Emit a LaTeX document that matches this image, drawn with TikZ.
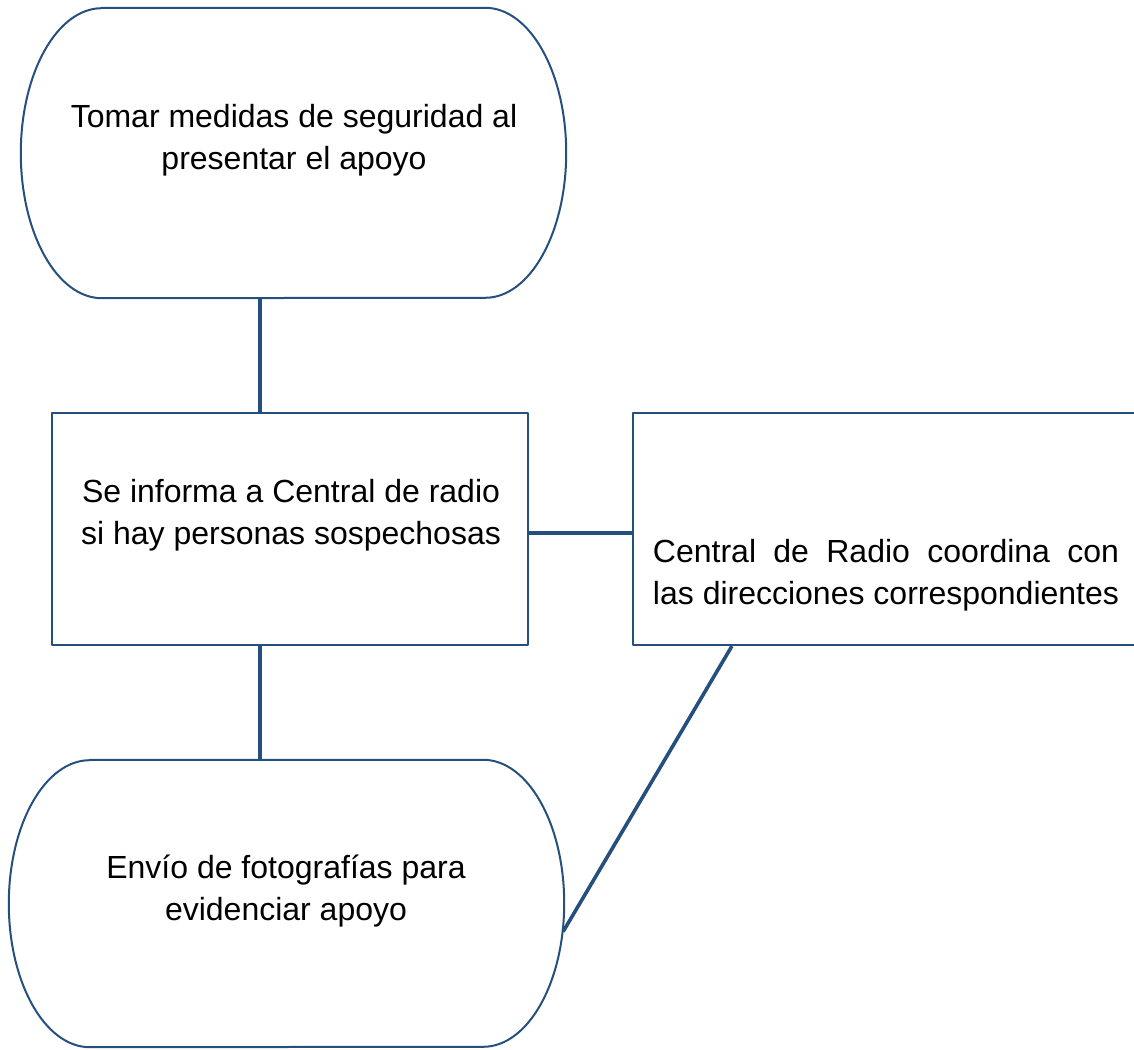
\documentclass[tikz,border=0pt]{standalone}
\usepackage{fontspec}
\setmainfont{Liberation Sans}
\usepackage{calc}
\usetikzlibrary{calc}

\begin{document}
\begin{tikzpicture}[x=1pt,y=1pt,line join=round,
  every node/.style={font=\fontsize{32}{42.5}\selectfont},
  framebox/.style={draw=cedge,line width=2.2pt,inner sep=0pt},
  terminal/.style={inner sep=0pt,append after command={\pgfextra{
    \draw[cedge,line width=2pt] (\tikzlastnode.north west) -- (\tikzlastnode.north east)
      arc[start angle=90,end angle=-90,x radius=81,y radius=#1]
      -- (\tikzlastnode.south west)
      arc[start angle=270,end angle=90,x radius=81,y radius=#1] -- cycle;}}},
  link/.style={draw=cedge,line width=3.6pt},
  boxtext/.style={align=center,inner sep=0pt}]
\definecolor{cedge}{HTML}{25507E}
\useasboundingbox (0,0) rectangle (1134,1049);
% ===== shapes =====
\node[terminal=145,minimum width=383,minimum height=290] (start) at (293.5,896) {};
\node[framebox,minimum width=476,minimum height=232] (inform) at (290,520) {};
\node[framebox,minimum width=507,minimum height=232] (coord) at (886.5,520) {};
\node[terminal=143.5,minimum width=393,minimum height=287] (photos) at (286.5,145.5) {};
% ===== texts =====
\node[boxtext] (startText) at (294,909) {Tomar medidas de seguridad al\\presentar el apoyo};
\node[boxtext] (informText) at (291,534) {Se informa a Central de radio\\si hay personas sospechosas};
\node[boxtext] (coordText) at (886,474)
  {\makebox[\widthof{las direcciones correspondientes}][s]{Central de Radio coordina con}\\las direcciones correspondientes};
\node[boxtext] (photosText) at (286,158) {Envío de fotografías para\\evidenciar apoyo};
% ===== connectors =====
\draw[link] ([xshift=-33.5]start.south) -- ([xshift=-33.5]start.south |- inform.north);
\draw[link] ([xshift=-30]inform.south) -- ([xshift=-30]inform.south |- photos.north);
\draw[link] ([yshift=-4]inform.east) -- ([yshift=-4]coord.west);
\draw[link] ([xshift=100]coord.south west) -- ([xshift=80,yshift=-28]photos.east);
\end{tikzpicture}
\end{document}
